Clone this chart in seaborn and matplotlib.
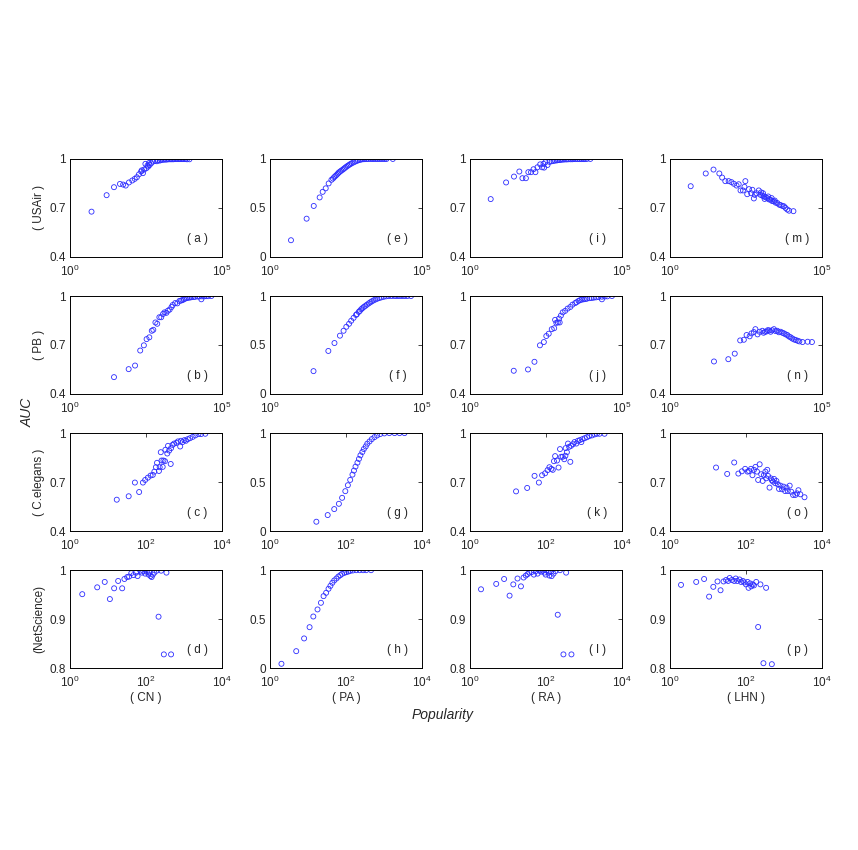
import matplotlib
matplotlib.use("Agg")
import pandas as pd
import matplotlib.pyplot as plt
import seaborn as sns

# --- Data: (popularity, AUC) per network / index ---
usair_cn = [(5.1, 0.677), (16, 0.778), (28, 0.827), (44, 0.847), (56, 0.843), (68, 0.837),
            (87, 0.856), (112, 0.868), (135, 0.878), (158, 0.888), (186, 0.906), (219, 0.923),
            (229, 0.93), (251, 0.913), (275, 0.935), (302, 0.97), (324, 0.943), (355, 0.96),
            (372, 0.953), (398, 0.975), (417, 0.963), (468, 0.974), (537, 0.984), (631, 0.988),
            (720, 0.986), (794, 0.991), (900, 0.99), (1000, 0.994), (1130, 0.995), (1259, 0.996),
            (1420, 0.996), (1585, 0.997), (1780, 0.998), (1995, 0.998), (2240, 0.998), (2512, 0.998),
            (2820, 0.999), (3162, 0.999), (3550, 0.999), (3981, 0.999), (4470, 0.999), (5012, 0.999),
            (5620, 0.999), (6310, 0.999), (7080, 0.998), (8511, 0.998)]
usair_pa = [(4.9, 0.17), (16, 0.39), (27.5, 0.52), (43, 0.607), (54, 0.664), (68, 0.70),
            (85, 0.75), (105, 0.787), (118, 0.80), (129, 0.814), (142, 0.826), (155, 0.837),
            (170, 0.85), (182, 0.861), (200, 0.87), (219, 0.88), (245, 0.89), (269, 0.90),
            (295, 0.91), (324, 0.92), (360, 0.93), (398, 0.939), (440, 0.948), (490, 0.956),
            (560, 0.965), (631, 0.973), (710, 0.98), (794, 0.986), (900, 0.991), (1000, 0.994),
            (1150, 0.997), (1300, 0.998), (1500, 0.999), (1700, 1.0), (2000, 1.0), (2300, 1.0),
            (2600, 1.0), (3000, 1.0), (3400, 1.0), (3900, 1.0), (4500, 1.0), (5200, 1.0),
            (6000, 1.0), (6800, 1.0), (11000, 1.0)]
usair_ra = [(4.8, 0.754), (15.4, 0.856), (28, 0.892), (42, 0.923), (53, 0.882), (69, 0.882),
            (83, 0.919), (102, 0.919), (123, 0.937), (142, 0.919), (166, 0.949), (204, 0.967),
            (236, 0.949), (263, 0.97), (275, 0.947), (302, 0.98), (355, 0.963), (417, 0.982),
            (490, 0.986), (560, 0.988), (631, 0.99), (720, 0.991), (800, 0.993), (900, 0.994),
            (1000, 0.995), (1150, 0.996), (1300, 0.997), (1500, 0.997), (1700, 0.998), (2000, 0.998),
            (2300, 0.998), (2600, 0.999), (3000, 0.999), (3500, 0.999), (4000, 0.999), (4600, 0.999),
            (5300, 0.999), (6000, 0.999), (7000, 1.0), (9100, 1.0)]
usair_lhn = [(4.8, 0.833), (15, 0.911), (27, 0.935), (42, 0.911), (52, 0.886), (66, 0.864),
             (85, 0.864), (105, 0.858), (126, 0.848), (155, 0.837), (182, 0.845), (209, 0.807),
             (251, 0.807), (282, 0.829), (302, 0.864), (347, 0.784), (398, 0.815), (468, 0.79),
             (513, 0.811), (575, 0.758), (620, 0.78), (708, 0.79), (832, 0.807), (955, 0.78),
             (1000, 0.795), (1100, 0.775), (1150, 0.79), (1230, 0.77), (1300, 0.755), (1400, 0.765),
             (1585, 0.76), (1700, 0.77), (1800, 0.752), (2040, 0.75), (2200, 0.76), (2300, 0.742),
             (2630, 0.74), (2800, 0.745), (3000, 0.732), (3390, 0.73), (3900, 0.72), (4370, 0.717),
             (5000, 0.712), (5620, 0.71), (6300, 0.70), (7240, 0.69), (8300, 0.683), (11500, 0.68)]

pb_cn = [(28, 0.503), (85, 0.552), (138, 0.574), (204, 0.666), (269, 0.698), (331, 0.736),
         (407, 0.747), (490, 0.787), (550, 0.793), (646, 0.838), (741, 0.83), (871, 0.87),
         (1000, 0.87), (1150, 0.89), (1290, 0.9), (1480, 0.897), (1660, 0.91), (1900, 0.917),
         (2190, 0.933), (2400, 0.945), (2880, 0.957), (3390, 0.955), (3980, 0.97), (4500, 0.972),
         (5000, 0.975), (5600, 0.98), (6300, 0.985), (7100, 0.988), (8000, 0.99), (9000, 0.991),
         (10000, 0.993), (11500, 0.994), (13000, 0.995), (15800, 0.997), (18000, 0.997),
         (20900, 0.98), (22000, 0.998), (26000, 0.998), (30000, 0.999), (35000, 0.999), (44700, 1.0)]
pb_pa = [(27, 0.233), (83, 0.439), (132, 0.52), (200, 0.595), (263, 0.645), (324, 0.686),
         (398, 0.716), (468, 0.747), (562, 0.777), (676, 0.807), (720, 0.815), (832, 0.838),
         (900, 0.848), (1000, 0.865), (1100, 0.876), (1230, 0.889), (1380, 0.9), (1550, 0.912),
         (1780, 0.925), (2000, 0.936), (2250, 0.946), (2570, 0.956), (2950, 0.965), (3390, 0.973),
         (3950, 0.98), (4570, 0.986), (5500, 0.992), (6600, 0.997), (8000, 0.999), (10000, 1.0),
         (12500, 1.0), (15000, 1.0), (18000, 1.0), (22000, 1.0), (27000, 1.0), (33000, 1.0),
         (43600, 1.0)]
pb_ra = [(27.5, 0.542), (81, 0.55), (132, 0.597), (200, 0.698), (269, 0.718), (324, 0.755),
         (389, 0.769), (490, 0.797), (589, 0.803), (631, 0.854), (692, 0.836), (776, 0.838),
         (851, 0.862), (891, 0.838), (977, 0.88), (1122, 0.9), (1349, 0.909), (1622, 0.923),
         (1995, 0.933), (2344, 0.947), (2884, 0.957), (3200, 0.962), (3715, 0.97), (4200, 0.975),
         (4786, 0.978), (5500, 0.98), (6300, 0.982), (7079, 0.984), (8500, 0.987), (10000, 0.988),
         (11749, 0.99), (14000, 0.992), (17000, 0.994), (21877, 0.98), (22000, 0.996),
         (27000, 0.997), (33000, 0.998), (46774, 1.0)]
pb_lhn = [(28, 0.599), (83, 0.613), (135, 0.647), (204, 0.728), (269, 0.732), (331, 0.761),
          (417, 0.753), (479, 0.771), (575, 0.779), (646, 0.797), (759, 0.765), (891, 0.781),
          (1096, 0.787), (1200, 0.775), (1349, 0.781), (1500, 0.783), (1660, 0.791), (1850, 0.789),
          (2042, 0.781), (2300, 0.79), (2630, 0.797), (3000, 0.785), (3388, 0.787), (3800, 0.778),
          (4365, 0.781), (5000, 0.775), (5623, 0.771), (6400, 0.765), (7244, 0.761), (8200, 0.752),
          (9333, 0.747), (10500, 0.74), (12023, 0.734), (13800, 0.73), (15849, 0.726),
          (18000, 0.722), (22909, 0.718), (33884, 0.72), (46774, 0.718)]

celegans_cn = [(17, 0.592), (35, 0.613), (51, 0.697), (66, 0.639), (83, 0.697), (95, 0.713),
               (112, 0.727), (132, 0.74), (151, 0.744), (166, 0.764), (182, 0.791), (195, 0.818),
               (219, 0.768), (229, 0.791), (245, 0.883), (257, 0.832), (275, 0.793), (288, 0.832),
               (316, 0.828), (324, 0.898), (363, 0.875), (380, 0.922), (407, 0.893), (447, 0.811),
               (457, 0.908), (501, 0.928), (550, 0.936), (631, 0.94), (692, 0.949), (794, 0.918),
               (832, 0.953), (912, 0.945), (1023, 0.957), (1122, 0.953), (1259, 0.963),
               (1445, 0.969), (1698, 0.977), (1995, 0.986), (2399, 0.994), (2818, 0.994), (3631, 0.996)]
celegans_pa = [(16.6, 0.095), (33, 0.163), (49, 0.224), (65, 0.278), (79, 0.339), (96, 0.407),
               (112, 0.468), (129, 0.522), (148, 0.576), (162, 0.617), (178, 0.658), (200, 0.698),
               (219, 0.736), (240, 0.773), (269, 0.807), (295, 0.837), (331, 0.864), (363, 0.892),
               (417, 0.915), (479, 0.939), (562, 0.959), (661, 0.976), (794, 0.99), (1023, 0.997),
               (1380, 1.0), (1900, 1.0), (2570, 1.0), (3467, 1.0)]
celegans_ra = [(16.3, 0.643), (32, 0.664), (50, 0.738), (65, 0.697), (79, 0.742), (95, 0.754),
               (110, 0.773), (123, 0.791), (138, 0.781), (151, 0.775), (162, 0.828), (174, 0.859),
               (195, 0.832), (214, 0.789), (234, 0.902), (251, 0.855), (275, 0.855), (302, 0.84),
               (324, 0.861), (330, 0.908), (355, 0.883), (380, 0.936), (407, 0.916), (437, 0.824),
               (457, 0.922), (513, 0.932), (562, 0.945), (631, 0.936), (692, 0.953), (776, 0.957),
               (851, 0.945), (912, 0.963), (1047, 0.969), (1202, 0.975), (1380, 0.982),
               (1622, 0.986), (1905, 0.992), (2188, 0.996), (2570, 0.996), (3467, 0.996)]
celegans_lhn = [(16.3, 0.789), (32, 0.75), (49, 0.82), (63, 0.752), (78, 0.766), (95, 0.781),
                (110, 0.764), (120, 0.768), (135, 0.781), (148, 0.742), (162, 0.775), (178, 0.793),
                (195, 0.764), (209, 0.713), (229, 0.809), (251, 0.748), (275, 0.707), (295, 0.742),
                (324, 0.764), (339, 0.723), (363, 0.775), (380, 0.738), (417, 0.666), (447, 0.723),
                (479, 0.711), (513, 0.703), (550, 0.719), (589, 0.693), (631, 0.707), (692, 0.686),
                (741, 0.658), (813, 0.678), (891, 0.656), (977, 0.672), (1072, 0.645), (1175, 0.666),
                (1259, 0.645), (1413, 0.678), (1549, 0.641), (1738, 0.621), (1995, 0.621),
                (2188, 0.631), (2399, 0.65), (2692, 0.625), (3467, 0.607)]

netscience_cn = [(2.1, 0.951), (5.2, 0.965), (8.2, 0.976), (11.2, 0.941), (14.5, 0.963),
                 (18.5, 0.978), (23.6, 0.963), (27, 0.982), (32, 0.986), (36, 0.987), (41, 0.994),
                 (47, 0.99), (55, 0.995), (60, 0.988), (71, 0.999), (78, 0.995), (85, 0.998),
                 (95, 0.993), (105, 0.997), (117, 0.991), (123, 0.995), (132, 0.988), (141, 0.986),
                 (151, 0.991), (166, 0.995), (191, 0.999), (214, 0.905), (251, 0.999),
                 (295, 0.828), (345, 0.995), (457, 0.828)]
netscience_pa = [(2, 0.044), (4.9, 0.173), (7.9, 0.303), (11, 0.418), (13.8, 0.527), (17.8, 0.599),
                 (21.9, 0.667), (25.7, 0.735), (30, 0.769), (34.7, 0.81), (38.9, 0.84), (43.7, 0.871),
                 (49, 0.895), (56, 0.915), (63, 0.935), (71, 0.949), (79, 0.963), (91, 0.973),
                 (102, 0.98), (115, 0.986), (129, 0.993), (151, 0.997), (186, 1.0), (229, 1.0),
                 (282, 1.0), (339, 1.0), (457, 1.0)]
netscience_ra = [(1.95, 0.961), (4.9, 0.972), (7.9, 0.982), (11, 0.948), (13.8, 0.971),
                 (17.8, 0.983), (21.9, 0.967), (25.7, 0.985), (29.5, 0.989), (33, 0.992),
                 (36.3, 0.995), (41.7, 0.996), (47.9, 0.991), (53.7, 0.998), (60, 0.993),
                 (67.6, 0.999), (74, 0.997), (83, 0.999), (91, 0.995), (98, 0.991), (105, 1.0),
                 (117, 0.995), (123, 0.989), (135, 0.997), (141, 0.988), (158, 0.993), (178, 0.998),
                 (204, 0.909), (234, 1.0), (288, 0.828), (339, 0.995), (468, 0.828)]
netscience_lhn = [(1.95, 0.97), (4.9, 0.976), (7.9, 0.982), (10.7, 0.946), (13.8, 0.966),
                  (17.8, 0.977), (21.4, 0.959), (25.7, 0.977), (30, 0.98), (33.9, 0.978),
                  (37.2, 0.984), (42.7, 0.98), (49, 0.978), (53.7, 0.983), (58.9, 0.978),
                  (67.6, 0.981), (74, 0.976), (83, 0.978), (91, 0.975), (100, 0.971), (110, 0.976),
                  (117, 0.964), (129, 0.973), (138, 0.967), (151, 0.971), (162, 0.969), (186, 0.976),
                  (209, 0.884), (240, 0.971), (288, 0.81), (339, 0.964), (479, 0.808)]

NETWORKS = ["USAir", "PB", "C.elegans", "NetScience"]
NETWORK_LABELS = ["( USAir )", "( PB )", "( C.elegans )", "(NetScience)"]
INDICES = ["CN", "PA", "RA", "LHN"]
PANELS = {
    "USAir": [usair_cn, usair_pa, usair_ra, usair_lhn],
    "PB": [pb_cn, pb_pa, pb_ra, pb_lhn],
    "C.elegans": [celegans_cn, celegans_pa, celegans_ra, celegans_lhn],
    "NetScience": [netscience_cn, netscience_pa, netscience_ra, netscience_lhn],
}

# --- Build long table ---
rows = []
for net in NETWORKS:
    for idx, pts in zip(INDICES, PANELS[net]):
        for pop, auc in pts:
            rows.append({"network": net, "index": idx, "popularity": pop, "auc": auc})
df = pd.DataFrame(rows)

# --- Style ---
sns.set_style("white")
plt.rcParams["font.family"] = ["Liberation Sans", "DejaVu Sans"]
plt.rcParams["mathtext.fontset"] = "custom"
plt.rcParams["mathtext.rm"] = "Liberation Sans"
plt.rcParams["mathtext.it"] = "Liberation Sans:italic"
plt.rcParams["mathtext.default"] = "regular"

fig, axes = plt.subplots(4, 4, figsize=(8.58, 8.5), dpi=100)
fig.subplots_adjust(left=0.0816, right=0.958, top=0.813, bottom=0.214,
                    wspace=0.316, hspace=0.40)

for r, net in enumerate(NETWORKS):
    for c, idx in enumerate(INDICES):
        ax = axes[r, c]
        sub = df[(df["network"] == net) & (df["index"] == idx)]
        sns.scatterplot(data=sub, x="popularity", y="auc", ax=ax, marker="o",
                        s=13, facecolor="none", edgecolor="#2d2dff", linewidth=0.6,
                        legend=False)
        ax.set_xscale("log")
        if r < 2:
            ax.set_xlim(1, 1e5)
            ax.set_xticks([1, 1e5])
            ax.set_xticklabels([r"$10^{0}$", r"$10^{5}$"])
        else:
            ax.set_xlim(1, 1e4)
            ax.set_xticks([1, 1e2, 1e4])
            ax.set_xticklabels([r"$10^{0}$", r"$10^{2}$", r"$10^{4}$"])
        ax.minorticks_off()

        if idx == "PA":
            ax.set_ylim(0, 1)
            ax.set_yticks([0, 0.5, 1])
            ax.set_yticklabels(["0", "0.5", "1"])
        elif net == "NetScience":
            ax.set_ylim(0.8, 1)
            ax.set_yticks([0.8, 0.9, 1])
            ax.set_yticklabels(["0.8", "0.9", "1"])
        else:
            ax.set_ylim(0.4, 1)
            ax.set_yticks([0.4, 0.7, 1])
            ax.set_yticklabels(["0.4", "0.7", "1"])

        ax.tick_params(direction="in", top=True, right=True, length=3, width=0.6,
                       labelsize=8.5)
        ax.tick_params(axis="x", pad=5)
        ax.tick_params(axis="y", pad=3)
        for sp in ax.spines.values():
            sp.set_linewidth(0.7)
            sp.set_color("black")

        ax.set_xlabel(f"( {idx} )" if r == 3 else "", fontsize=8.5, labelpad=1)
        ax.set_ylabel(NETWORK_LABELS[r] if c == 0 else "", fontsize=8.5, labelpad=3)

        letter = chr(ord("a") + c * 4 + r)
        ax.text(0.84, 0.18, f"( {letter} )", transform=ax.transAxes,
                fontsize=8.5, ha="center", va="center")

fig.text(0.032, 0.515, "AUC", rotation=90, style="italic", fontsize=10,
         ha="center", va="center")
fig.text(0.516, 0.159, "Popularity", style="italic", fontsize=10,
         ha="center", va="center")

fig.savefig("out.png", dpi=100)
